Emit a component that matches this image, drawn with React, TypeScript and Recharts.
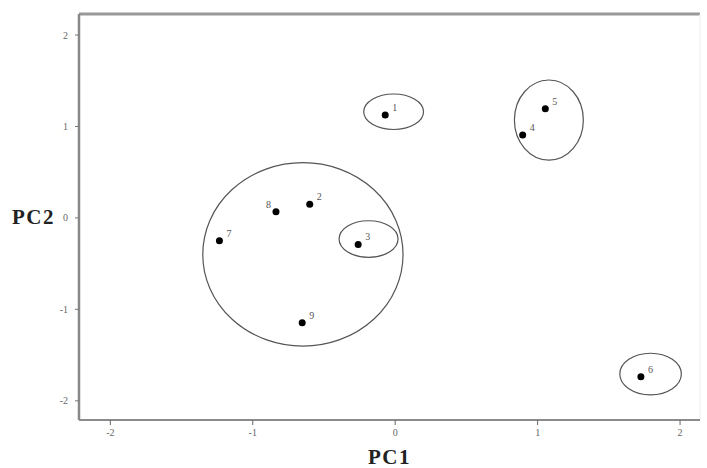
import React from 'react';
import { ScatterChart, Scatter, XAxis, YAxis, ReferenceLine } from 'recharts';

// sample scores on the first two principal components
const SAMPLE_IDS = ['1', '2', '3', '4', '5', '6', '7', '8', '9'];
const PC1_SCORES = [-0.07, -0.6, -0.26, 0.895, 1.054, 1.725, -1.234, -0.837, -0.653];
const PC2_SCORES = [1.125, 0.15, -0.29, 0.906, 1.194, -1.738, -0.25, 0.067, -1.147];

// cluster ellipses (centre and radii in PC units)
const GROUP_CX = [-0.648, -0.187, 1.079, 1.793, -0.011];
const GROUP_CY = [-0.399, -0.231, 1.07, -1.708, 1.161];
const GROUP_RX = [0.703, 0.207, 0.242, 0.216, 0.21];
const GROUP_RY = [1.003, 0.2, 0.438, 0.228, 0.194];

const AXIS_TICKS = [-2, -1, 0, 1, 2];
const X_DOMAIN: [number, number] = [-2.22, 2.14];
const Y_DOMAIN: [number, number] = [-2.21, 2.23];

const WIDTH = 707;
const HEIGHT = 468;
const MARGIN = { top: 14, right: 7, bottom: 0, left: 0 };
const Y_AXIS_W = 79;
const X_AXIS_H = 48;
const PLOT_W = WIDTH - MARGIN.left - MARGIN.right - Y_AXIS_W;
const PLOT_H = HEIGHT - MARGIN.top - MARGIN.bottom - X_AXIS_H;
const PX_PER_X = PLOT_W / (X_DOMAIN[1] - X_DOMAIN[0]);
const PX_PER_Y = PLOT_H / (Y_DOMAIN[1] - Y_DOMAIN[0]);

const FONT = '"Liberation Serif", "DejaVu Serif", serif';
const TITLE_STYLE = { fontSize: 21, fontWeight: 'bold', fontFamily: FONT, fill: '#222', letterSpacing: 1.5 };

const points = SAMPLE_IDS.map((id, i) => ({ id, x: PC1_SCORES[i], y: PC2_SCORES[i] }));
const groups = GROUP_CX.map((cx, i) => ({ x: cx, y: GROUP_CY[i], rx: GROUP_RX[i], ry: GROUP_RY[i] }));

const EllipseShape = (props: any) => {
  const { cx, cy, payload } = props;
  if (cx == null || cy == null) return null;
  return (
    <ellipse
      cx={cx}
      cy={cy}
      rx={payload.rx * PX_PER_X}
      ry={payload.ry * PX_PER_Y}
      fill="none"
      stroke="#555"
      strokeWidth={1.2}
    />
  );
};

const DotShape = (props: any) => {
  const { cx, cy, payload } = props;
  if (cx == null || cy == null) return null;
  const onLeft = payload.id === '8'; // label 8 sits left of its dot
  return (
    <g>
      <circle cx={cx} cy={cy} r={3.5} fill="#000" />
      <text
        x={onLeft ? cx - 5 : cx + 7}
        y={cy - 4}
        textAnchor={onLeft ? 'end' : 'start'}
        fontSize={10}
        fontFamily={FONT}
        fill="#555"
      >
        {payload.id}
      </text>
    </g>
  );
};

export default function App() {
  return (
    <div style={{ position: 'absolute', left: 0, top: 0, background: '#fff' }}>
      <ScatterChart width={WIDTH} height={HEIGHT} margin={MARGIN}>
        <XAxis
          type="number"
          dataKey="x"
          domain={X_DOMAIN}
          ticks={AXIS_TICKS}
          allowDataOverflow
          height={X_AXIS_H}
          axisLine={{ stroke: '#666', strokeWidth: 1.5 }}
          tickLine={{ stroke: '#666' }}
          tickSize={5}
          tickMargin={4}
          tick={{ fontSize: 10, fontFamily: FONT, fill: '#666' }}
          label={{ value: 'PC1', position: 'insideBottom', offset: 4, style: TITLE_STYLE }}
        />
        <YAxis
          type="number"
          dataKey="y"
          domain={Y_DOMAIN}
          ticks={AXIS_TICKS}
          allowDataOverflow
          width={Y_AXIS_W}
          axisLine={{ stroke: '#888', strokeWidth: 2.5 }}
          tickLine={{ stroke: '#777' }}
          tickSize={4}
          tickMargin={7}
          tick={{ fontSize: 10, fontFamily: FONT, fill: '#666' }}
          label={{ value: 'PC2', position: 'insideLeft', offset: 12, angle: 0, style: TITLE_STYLE }}
        />
        <ReferenceLine y={Y_DOMAIN[1]} stroke="#999" strokeWidth={3} />
        <ReferenceLine x={X_DOMAIN[1]} stroke="#eee" strokeWidth={1} />
        <Scatter data={groups} shape={<EllipseShape />} isAnimationActive={false} />
        <Scatter data={points} shape={<DotShape />} isAnimationActive={false} />
      </ScatterChart>
    </div>
  );
}
